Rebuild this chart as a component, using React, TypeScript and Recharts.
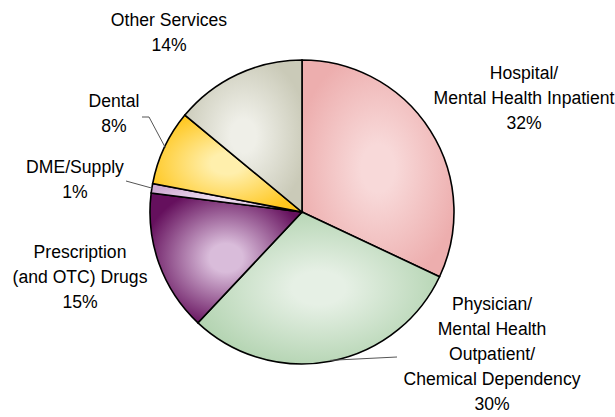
import { PieChart, Pie, Cell } from "recharts";

// spending share by service type, clockwise from 12 o'clock
const categories = [
  "Hospital/Mental Health Inpatient",
  "Physician/Mental Health Outpatient/Chemical Dependency",
  "Prescription (and OTC) Drugs",
  "DME/Supply",
  "Dental",
  "Other Services",
];
const shares = [32, 30, 15, 1, 8, 14];
const labelText = [
  ["Hospital/", "Mental Health Inpatient"],
  ["Physician/", "Mental Health", "Outpatient/", "Chemical Dependency"],
  ["Prescription", "(and OTC) Drugs"],
  ["DME/Supply"],
  ["Dental"],
  ["Other Services"],
];

const data = categories.map((name, i) => ({ name, value: shares[i] }));

// [edge colour, centre colour] for each wedge's shading
const shades = [
  ["#edaeae", "#f8d9d9"],
  ["#b2d3b0", "#e6f0e5"],
  ["#65105d", "#d9bcda"],
  ["#cfaad2", "#ecdaee"],
  ["#ffc71f", "#ffefac"],
  ["#cacab8", "#efefe8"],
];

// label anchor (centre x, first baseline) and leader points on the label side
const labelPos = [
  { x: 524, y: 79, leader: null },
  { x: 492, y: 310, leader: [[397, 357]] },
  { x: 80, y: 258, leader: null },
  { x: 75, y: 173, leader: [[126, 181]] },
  { x: 114, y: 107, leader: [[142, 117], [149, 117]] },
  { x: 169, y: 26, leader: null },
];

const RAD = Math.PI / 180;
const LINE_H = 25;

const renderLabel = (props: any) => {
  const { cx, cy, midAngle, outerRadius, index, value } = props;
  const pos = labelPos[index];
  const lines = [...labelText[index], `${value}%`];
  let leader = null;
  if (pos.leader) {
    const r = outerRadius - 1;
    const ex = cx + r * Math.cos(-midAngle * RAD);
    const ey = cy + r * Math.sin(-midAngle * RAD);
    const pts = [...pos.leader, [ex, ey]].map((p) => p.join(",")).join(" ");
    leader = <polyline points={pts} fill="none" stroke="#555" strokeWidth={1} />;
  }
  return (
    <g key={`label-${index}`}>
      {leader}
      <text
        x={pos.x}
        y={pos.y}
        textAnchor="middle"
        fontFamily="'Liberation Sans', Arial, sans-serif"
        fontSize={17.6}
        fill="#000"
      >
        {lines.map((line, i) => (
          <tspan key={i} x={pos.x} y={pos.y + i * LINE_H}>
            {line}
          </tspan>
        ))}
      </text>
    </g>
  );
};

export default function App() {
  return (
    <div style={{ position: "absolute", left: 0, top: 0, background: "#fff" }}>
      <PieChart width={615} height={417}>
        <defs>
          {shades.map(([edge, centre], i) => (
            <radialGradient key={i} id={`shade-${i}`} cx="50%" cy="50%" r="55%">
              <stop offset="0%" stopColor={centre} />
              <stop offset="20%" stopColor={centre} />
              <stop offset="100%" stopColor={edge} />
            </radialGradient>
          ))}
        </defs>
        <Pie
          data={data}
          dataKey="value"
          nameKey="name"
          cx={297}
          cy={207}
          outerRadius={152}
          startAngle={90}
          endAngle={-270}
          stroke="#000"
          strokeWidth={1.6}
          label={renderLabel}
          labelLine={false}
          isAnimationActive={false}
        >
          {data.map((_, i) => (
            <Cell key={i} fill={`url(#shade-${i})`} stroke="#000" strokeWidth={1.6} />
          ))}
        </Pie>
      </PieChart>
    </div>
  );
}
